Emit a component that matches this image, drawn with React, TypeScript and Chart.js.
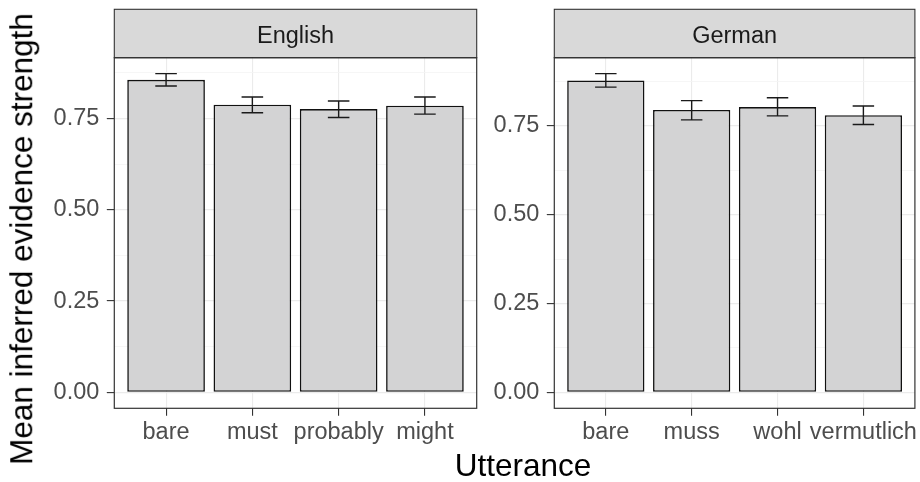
import React, { useEffect, useRef } from 'react';
import { Chart, registerables } from 'chart.js';

Chart.register(...registerables);

const englishCategories = ['bare', 'must', 'probably', 'might'];
const englishMeans = [0.856, 0.788, 0.776, 0.785];
const englishLower = [0.839, 0.766, 0.753, 0.762];
const englishUpper = [0.873, 0.809, 0.798, 0.809];

const germanCategories = ['bare', 'muss', 'wohl', 'vermutlich'];
const germanMeans = [0.878, 0.795, 0.803, 0.78];
const germanLower = [0.859, 0.767, 0.778, 0.754];
const germanUpper = [0.897, 0.821, 0.829, 0.806];

const majorTicks = [0, 0.25, 0.5, 0.75];
const minorTicks = [0.125, 0.375, 0.625, 0.875];

const yTitle = 'Mean inferred evidence strength';
const xTitle = 'Utterance';

const FONT = '"Liberation Sans", Arial, Helvetica, sans-serif';

type PanelProps = {
  label: string;
  categories: string[];
  means: number[];
  lower: number[];
  upper: number[];
  axisWidth: number;
  padRight: number;
};

function Panel({ label, categories, means, lower, upper, axisWidth, padRight }: PanelProps) {
  const ref = useRef<HTMLCanvasElement | null>(null);

  useEffect(() => {
    if (!ref.current) return;
    const maxVal = Math.max(...upper);
    const yMin = -0.05 * maxVal;
    const yMax = maxVal * 1.05;
    const allTicks = [...majorTicks, ...minorTicks].sort((a, b) => a - b);
    const isMajor = (v: number) => majorTicks.includes(v);

    const facetPlugin = {
      id: 'facetStrip',
      afterDraw(chart: any) {
        const { ctx, chartArea } = chart;
        const { left, right, top, bottom } = chartArea;
        ctx.save();
        const stripTop = 9.3;
        ctx.fillStyle = '#D9D9D9';
        ctx.fillRect(left, stripTop, right - left, top - stripTop);
        ctx.strokeStyle = '#333333';
        ctx.lineWidth = 1.1;
        ctx.strokeRect(left, stripTop, right - left, top - stripTop);
        ctx.fillStyle = '#1A1A1A';
        ctx.font = `23.5px ${FONT}`;
        ctx.textAlign = 'center';
        ctx.textBaseline = 'alphabetic';
        ctx.fillText(label, (left + right) / 2, top - 15);
        ctx.strokeStyle = '#333333';
        ctx.lineWidth = 1.2;
        ctx.strokeRect(left, top, right - left, bottom - top);
        ctx.restore();
      },
    };

    const errorPlugin = {
      id: 'errorBars',
      afterDatasetsDraw(chart: any) {
        const { ctx } = chart;
        const xs = chart.scales.x;
        const ys = chart.scales.y;
        const unit = xs.getPixelForValue(1) - xs.getPixelForValue(0);
        const half = unit * 0.125;
        ctx.save();
        ctx.strokeStyle = '#1A1A1A';
        ctx.lineWidth = 1.4;
        categories.forEach((_, i) => {
          const x = xs.getPixelForValue(i);
          const yHi = ys.getPixelForValue(upper[i]);
          const yLo = ys.getPixelForValue(lower[i]);
          ctx.beginPath();
          ctx.moveTo(x, yHi);
          ctx.lineTo(x, yLo);
          ctx.moveTo(x - half, yHi);
          ctx.lineTo(x + half, yHi);
          ctx.moveTo(x - half, yLo);
          ctx.lineTo(x + half, yLo);
          ctx.stroke();
        });
        ctx.restore();
      },
    };

    const chart = new Chart(ref.current, {
      type: 'bar',
      data: {
        datasets: [
          {
            data: categories.map((_, i) => ({ x: i, y: means[i] })) as any,
            backgroundColor: '#D3D3D4',
            borderColor: '#111111',
            borderWidth: 1.6,
            borderSkipped: false,
            categoryPercentage: 0.9,
            barPercentage: 1,
          } as any,
        ],
      },
      options: {
        animation: false,
        responsive: true,
        maintainAspectRatio: false,
        layout: { padding: { top: 57.7, right: padRight, left: 0, bottom: 0 } },
        plugins: {
          legend: { display: false },
          tooltip: { enabled: false },
        },
        scales: {
          x: {
            type: 'linear',
            min: -0.6,
            max: 3.6,
            offset: false,
            afterBuildTicks: (axis: any) => {
              axis.ticks = categories.map((_, i) => ({ value: i }));
            },
            afterFit: (axis: any) => {
              axis.height = 73.7;
            },
            ticks: {
              callback: (v: any) => categories[v as number],
              font: { family: FONT, size: 23.5 },
              color: '#4D4D4D',
              padding: 2.5,
              autoSkip: false,
              maxRotation: 0,
            },
            grid: {
              offset: false,
              color: '#EBEBEB',
              lineWidth: 1.1,
              tickColor: '#333333',
              tickLength: 7.5,
              tickWidth: 1.1,
            },
            border: { display: false },
          } as any,
          y: {
            type: 'linear',
            min: yMin,
            max: yMax,
            afterBuildTicks: (axis: any) => {
              axis.ticks = allTicks.map((v) => ({ value: v }));
            },
            afterFit: (axis: any) => {
              axis.width = axisWidth;
            },
            ticks: {
              callback: (v: any) => (isMajor(v) ? Number(v).toFixed(2) : ''),
              font: { family: FONT, size: 23.5 },
              color: '#4D4D4D',
              padding: 7.5,
              autoSkip: false,
            },
            grid: {
              color: (c: any) => (c.tick && isMajor(c.tick.value) ? '#EBEBEB' : '#F4F4F4'),
              lineWidth: (c: any) => (c.tick && isMajor(c.tick.value) ? 1.2 : 0.8),
              tickColor: (c: any) => (c.tick && isMajor(c.tick.value) ? '#333333' : 'rgba(0,0,0,0)'),
              tickLength: 7.5,
              tickWidth: 1.1,
            },
            border: { display: false },
          } as any,
        },
      },
      plugins: [facetPlugin, errorPlugin],
    });

    return () => chart.destroy();
  }, [label, categories, means, lower, upper, axisWidth, padRight]);

  return <canvas ref={ref} />;
}

export default function App() {
  return (
    <div
      style={{
        position: 'absolute',
        left: 0,
        top: 0,
        width: 920,
        height: 482,
        background: '#FFFFFF',
        overflow: 'hidden',
        fontFamily: FONT,
      }}
    >
      <div style={{ position: 'absolute', left: 0, top: 0, width: 480, height: 482 }}>
        <Panel
          label="English"
          categories={englishCategories}
          means={englishMeans}
          lower={englishLower}
          upper={englishUpper}
          axisWidth={114.3}
          padRight={3.3}
        />
      </div>
      <div style={{ position: 'absolute', left: 480, top: 0, width: 440, height: 482 }}>
        <Panel
          label="German"
          categories={germanCategories}
          means={germanMeans}
          lower={germanLower}
          upper={germanUpper}
          axisWidth={74.3}
          padRight={4}
        />
      </div>
      <div
        style={{
          position: 'absolute',
          left: 22.4,
          top: 238.7,
          transform: 'translate(-50%, -50%) rotate(-90deg)',
          fontSize: 31.5,
          lineHeight: 1,
          whiteSpace: 'nowrap',
          color: '#000000',
        }}
      >
        {yTitle}
      </div>
      <div
        style={{
          position: 'absolute',
          left: 523,
          top: 465.8,
          transform: 'translate(-50%, -50%)',
          fontSize: 31.5,
          lineHeight: 1,
          whiteSpace: 'nowrap',
          color: '#000000',
        }}
      >
        {xTitle}
      </div>
    </div>
  );
}
